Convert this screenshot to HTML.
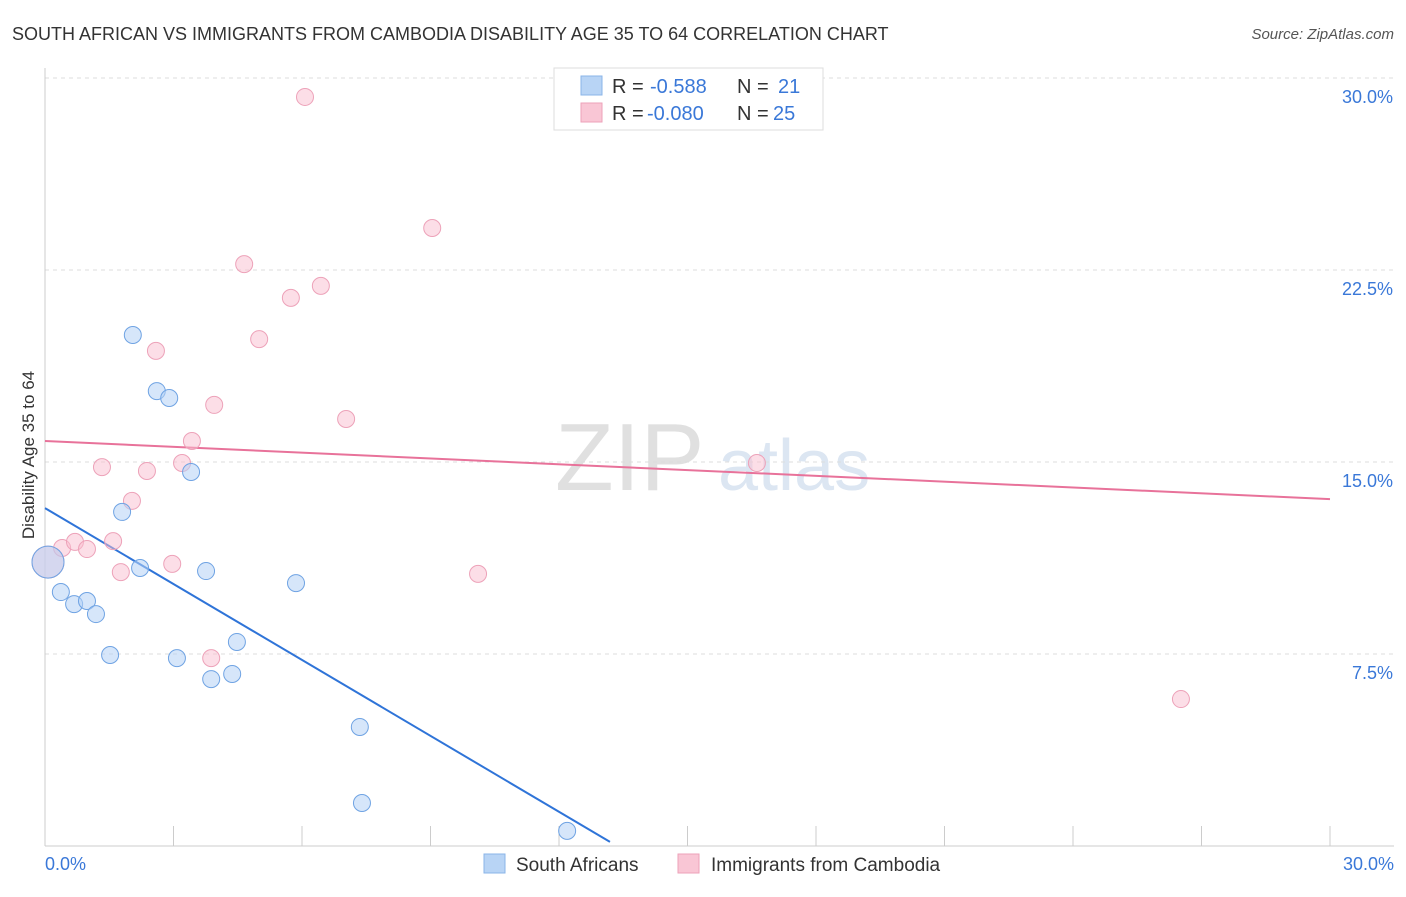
<!DOCTYPE html>
<html><head><meta charset="utf-8"><style>
body{margin:0;background:#fff;font-family:"Liberation Sans",sans-serif;}
svg text{font-family:"Liberation Sans",sans-serif;}
</style></head><body>
<svg id="chart" width="1406" height="892">
<text x="12" y="40" font-size="18" fill="#333">SOUTH AFRICAN VS IMMIGRANTS FROM CAMBODIA DISABILITY AGE 35 TO 64 CORRELATION CHART</text>
<text x="1394" y="39" font-size="15" fill="#555" font-style="italic" text-anchor="end">Source: ZipAtlas.com</text>
<text x="555" y="490" font-size="96" fill="#e0e0e0" font-family="Liberation Serif">ZIP</text>
<text x="718" y="490" font-size="72" fill="#dce6f2">atlas</text>
<text transform="translate(34,455) rotate(-90)" font-size="17" fill="#333" text-anchor="middle">Disability Age 35 to 64</text>
<g id="grid"></g><g id="axes"></g><g id="lines"></g><g id="pts"></g>
<g>
<rect x="554" y="68" width="269" height="62" fill="#fff" stroke="#ddd"/>
<rect x="581" y="76" width="21" height="19" fill="#b8d4f5" stroke="#8ab4e8"/>
<rect x="581" y="103" width="21" height="19" fill="#f9c6d5" stroke="#eda2b9"/>
<text x="612" y="93" font-size="20" fill="#333">R =</text>
<text x="650" y="93" font-size="20" fill="#3a78d8">-0.588</text>
<text x="737" y="93" font-size="20" fill="#333">N =</text>
<text x="778" y="93" font-size="20" fill="#3a78d8">21</text>
<text x="612" y="120" font-size="20" fill="#333">R =</text>
<text x="647" y="120" font-size="20" fill="#3a78d8">-0.080</text>
<text x="737" y="120" font-size="20" fill="#333">N =</text>
<text x="773" y="120" font-size="20" fill="#3a78d8">25</text>
</g>
<g>
<rect x="484" y="854" width="21" height="19" fill="#b8d4f5" stroke="#8ab4e8"/>
<text x="516" y="871" font-size="19" fill="#333">South Africans</text>
<rect x="678" y="854" width="21" height="19" fill="#f9c6d5" stroke="#eda2b9"/>
<text x="711" y="871" font-size="19" fill="#333">Immigrants from Cambodia</text>
</g>
</svg>
<script>
const yTicks=[7.5,15,22.5,30];
const yTickLabels=["7.5%","15.0%","22.5%","30.0%"];
const xTickLabels=["0.0%","30.0%"];
const blueX=[0.07,0.37,0.68,0.98,1.19,1.52,1.80,2.05,2.22,2.61,2.90,3.08,3.41,3.76,3.88,4.37,4.48,5.86,7.35,7.40,12.19];
const blueY=[11.09,9.92,9.45,9.57,9.06,7.46,13.05,19.96,10.86,17.77,17.50,7.34,14.61,10.74,6.52,6.72,7.97,10.27,4.65,1.68,0.59];
const pinkX=[0.07,0.40,0.70,0.98,1.33,1.59,1.77,2.03,2.38,2.59,2.97,3.20,3.43,3.88,3.95,4.65,5.00,5.74,6.07,6.44,7.03,9.04,10.11,16.62,26.52];
const pinkY=[11.09,11.64,11.88,11.60,14.80,11.91,10.70,13.48,14.65,19.34,11.02,14.96,15.82,7.34,17.23,22.73,19.80,21.41,29.26,21.88,16.68,24.14,10.63,14.96,5.74];
const blueLine=[13.2,0.16];
const blueLineX=[0,13.19];
const pinkLine=[15.82,13.55];
const pinkLineX=[0,30];
const NS="http://www.w3.org/2000/svg";
const sx=v=>45+v*(1285/30), sy=v=>846-v*25.6;
function mk(p,t,a){const e=document.createElementNS(NS,t);for(const k in a)e.setAttribute(k,a[k]);document.getElementById(p).appendChild(e);return e;}
yTicks.forEach((t,i)=>{
 const g=mk('grid','line',{x1:45,x2:1394,y1:sy(t),y2:sy(t),stroke:'#ddd','stroke-dasharray':'4,4'});
 
 
 const l=mk('axes','text',{x:1393,y:sy(t)+25,'font-size':18,fill:'#3a78d8','text-anchor':'end'});
 l.textContent=yTickLabels[i];
 
 
});
const ax=mk('axes','line',{x1:45,x2:45,y1:68,y2:846,stroke:'#ccc'});


const bx=mk('axes','line',{x1:45,x2:1394,y1:846,y2:846,stroke:'#ccc'});


for(let i=1;i<=10;i++){const t=mk('axes','line',{x1:sx(i*3),x2:sx(i*3),y1:826,y2:846,stroke:'#ccc'});
 
 }
[[0,45,'start'],[1,1394,'end']].forEach(([i,x,a])=>{const l=mk('axes','text',{x:x,y:870,'font-size':18,fill:'#3a78d8','text-anchor':a});
 l.textContent=xTickLabels[i];
 
 });
const bl=mk('lines','line',{x1:sx(blueLineX[0]),y1:sy(blueLine[0]),x2:sx(blueLineX[1]),y2:sy(blueLine[1]),stroke:'#2f74d8','stroke-width':2});


const pl=mk('lines','line',{x1:sx(pinkLineX[0]),y1:sy(pinkLine[0]),x2:sx(pinkLineX[1]),y2:sy(pinkLine[1]),stroke:'#e8729a','stroke-width':2});


pinkX.forEach((x,i)=>{const c=mk('pts','circle',{cx:sx(x),cy:sy(pinkY[i]),r:i==0?16:8.5,fill:'rgba(249,190,208,0.5)',stroke:'#eda2b9','stroke-width':1});
 
 });
blueX.forEach((x,i)=>{const c=mk('pts','circle',{cx:sx(x),cy:sy(blueY[i]),r:i==0?16:8.5,fill:'rgba(180,210,245,0.55)',stroke:'#6fa3e3','stroke-width':1});
 
 });
</script>
</body></html>
